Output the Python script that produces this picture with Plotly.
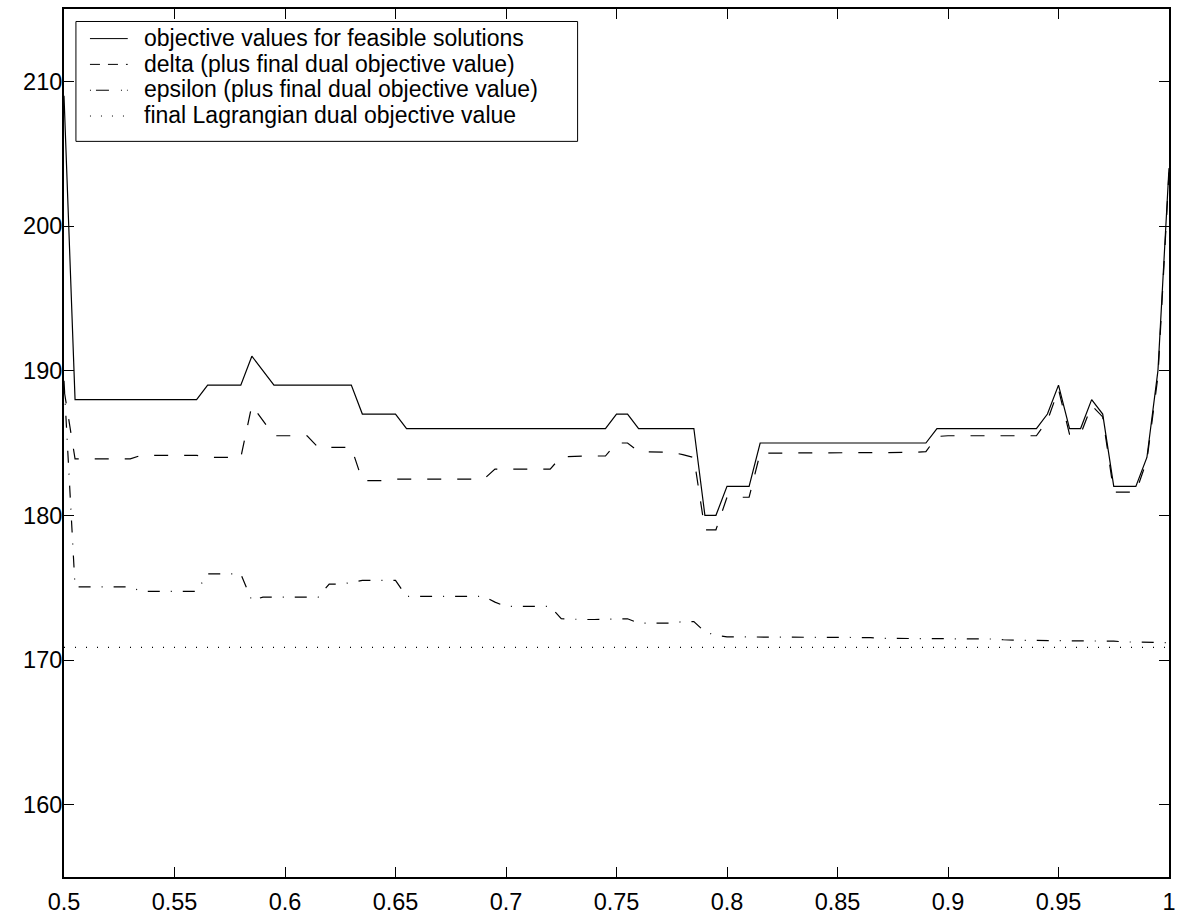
import plotly.graph_objects as go

# x grid (step parameter)
x_vals = [0.5, 0.505, 0.51, 0.515, 0.52, 0.525, 0.53, 0.535, 0.54, 0.545,
          0.55, 0.555, 0.56, 0.565, 0.57, 0.575, 0.58, 0.585, 0.59, 0.595,
          0.6, 0.605, 0.61, 0.615, 0.62, 0.625, 0.63, 0.635, 0.64, 0.645,
          0.65, 0.655, 0.66, 0.665, 0.67, 0.675, 0.68, 0.685, 0.69, 0.695,
          0.7, 0.705, 0.71, 0.715, 0.72, 0.725, 0.73, 0.735, 0.74, 0.745,
          0.75, 0.755, 0.76, 0.765, 0.77, 0.775, 0.78, 0.785, 0.79, 0.795,
          0.8, 0.805, 0.81, 0.815, 0.82, 0.825, 0.83, 0.835, 0.84, 0.845,
          0.85, 0.855, 0.86, 0.865, 0.87, 0.875, 0.88, 0.885, 0.89, 0.895,
          0.9, 0.905, 0.91, 0.915, 0.92, 0.925, 0.93, 0.935, 0.94, 0.945,
          0.95, 0.955, 0.96, 0.965, 0.97, 0.975, 0.98, 0.985, 0.99, 0.995,
          1.0]

objective = [209, 188, 188, 188, 188, 188, 188, 188, 188, 188,
             188, 188, 188, 189, 189, 189, 189, 191, 190, 189,
             189, 189, 189, 189, 189, 189, 189, 187, 187, 187,
             187, 186, 186, 186, 186, 186, 186, 186, 186, 186,
             186, 186, 186, 186, 186, 186, 186, 186, 186, 186,
             187, 187, 186, 186, 186, 186, 186, 186, 180, 180,
             182, 182, 182, 185, 185, 185, 185, 185, 185, 185,
             185, 185, 185, 185, 185, 185, 185, 185, 185, 186,
             186, 186, 186, 186, 186, 186, 186, 186, 186, 187,
             189, 186, 186, 188, 187, 182, 182, 182, 184, 190,
             204]

delta = [188.7, 183.9, 183.9, 183.9, 183.9, 183.9, 183.9, 184.15, 184.15, 184.15,
         184.15, 184.15, 184.15, 184.0, 184.0, 184.0, 184.0, 187.6, 186.55, 185.5,
         185.5, 185.5, 185.5, 184.7, 184.7, 184.7, 184.7, 182.4, 182.4, 182.4,
         182.5, 182.5, 182.5, 182.5, 182.5, 182.5, 182.5, 182.5, 182.5, 183.2,
         183.2, 183.2, 183.2, 183.2, 183.2, 184.05, 184.1, 184.1, 184.1, 184.1,
         185.0, 185.0, 184.4, 184.4, 184.4, 184.35, 184.2, 184.0, 179.0, 179.0,
         181.25, 181.25, 181.25, 184.3, 184.3, 184.3, 184.3, 184.3, 184.3, 184.3,
         184.3, 184.3, 184.3, 184.3, 184.3, 184.3, 184.35, 184.35, 184.4, 185.45,
         185.5, 185.5, 185.5, 185.5, 185.5, 185.5, 185.5, 185.5, 185.5, 186.55,
         188.7, 185.6, 185.6, 187.6, 186.8, 181.6, 181.6, 181.6, 183.8, 189.6,
         203.7]

epsilon = [189.3, 175.05, 175.05, 175.05, 175.05, 175.05, 175.05, 174.75, 174.75, 174.75,
           174.75, 174.75, 174.75, 175.95, 175.95, 175.95, 175.95, 174.1, 174.35, 174.35,
           174.35, 174.35, 174.35, 174.35, 175.25, 175.25, 175.35, 175.5, 175.5, 175.5,
           175.5, 174.4, 174.4, 174.4, 174.4, 174.4, 174.4, 174.4, 174.4, 174.0,
           173.7, 173.7, 173.7, 173.7, 173.7, 172.85, 172.8, 172.8, 172.8, 172.8,
           172.85, 172.85, 172.55, 172.55, 172.55, 172.55, 172.65, 172.65, 171.95, 171.7,
           171.6, 171.6, 171.6, 171.6, 171.6, 171.6, 171.6, 171.6, 171.6, 171.6,
           171.6, 171.55, 171.55, 171.55, 171.5, 171.5, 171.5, 171.5, 171.5, 171.45,
           171.45, 171.45, 171.45, 171.45, 171.45, 171.4, 171.35, 171.35, 171.35, 171.35,
           171.35, 171.35, 171.3, 171.3, 171.3, 171.3, 171.25, 171.25, 171.25, 171.2,
           171.2]

dual_value = 170.87

x_ticks = [0.5, 0.55, 0.6, 0.65, 0.7, 0.75, 0.8, 0.85, 0.9, 0.95, 1.0]
x_ticktext = ["0.5", "0.55", "0.6", "0.65", "0.7", "0.75", "0.8", "0.85", "0.9", "0.95", "1"]
y_ticks = [160, 170, 180, 190, 200, 210]

legend_labels = ["objective values for feasible solutions",
                 "delta (plus final dual objective value)",
                 "epsilon (plus final dual objective value)",
                 "final Lagrangian dual objective value"]

FONT = "Liberation Sans, Arial, Helvetica, sans-serif"

dashes = ["solid", "14px,16px", "12px,11px,1px,11px", "1px,10px"]
series = [objective, delta, epsilon, [dual_value] * len(x_vals)]

fig = go.Figure()
for ys, d, name in zip(series, dashes, legend_labels):
    fig.add_trace(go.Scatter(x=x_vals, y=ys, mode="lines", name=name,
                             line=dict(color="black", width=1.2, dash=d),
                             showlegend=False, hoverinfo="skip"))

axis_common = dict(showline=True, linecolor="black", linewidth=2, mirror="ticks",
                   ticks="inside", ticklen=10, tickwidth=1, tickcolor="black",
                   showgrid=False, zeroline=False,
                   tickfont=dict(family=FONT, size=23.5, color="black"))

fig.update_xaxes(range=[0.5, 1.0], tickvals=x_ticks, ticktext=x_ticktext,
                 ticklabelstandoff=3, **axis_common)
fig.update_yaxes(range=[155, 215], tickvals=y_ticks, ticklabelstandoff=-5, **axis_common)

# legend drawn as a boxed key (paper coordinates)
shapes = [dict(type="rect", xref="paper", yref="paper", x0=0.0108, x1=0.4648,
               y0=0.8475, y1=0.9856, line=dict(color="black", width=1),
               fillcolor="white", layer="above")]
legend_dash = ["solid", "10px,8px", "1px,5px,13px,12px", "1px,10px"]
row_y = [0.9659, 0.9362, 0.9064, 0.8767]
annotations = []
for yy, d, lab in zip(row_y, legend_dash, legend_labels):
    shapes.append(dict(type="line", xref="paper", yref="paper", x0=0.0235, x1=0.0577,
                       y0=yy, y1=yy, line=dict(color="black", width=1, dash=d), layer="above"))
    annotations.append(dict(xref="paper", yref="paper", x=0.0712, y=yy + 0.001,
                            xanchor="left", yanchor="middle", showarrow=False,
                            borderpad=0, text=lab,
                            font=dict(family=FONT, size=23, color="black")))

fig.update_layout(width=1183, height=922,
                  margin=dict(l=64, r=10, t=7, b=41),
                  paper_bgcolor="white", plot_bgcolor="white",
                  font=dict(family=FONT, size=24, color="black"),
                  shapes=shapes, annotations=annotations, showlegend=False)

fig.write_html("out.html", config={"displayModeBar": False},
               post_script="document.body.style.margin='0';document.body.style.overflow='hidden';")
